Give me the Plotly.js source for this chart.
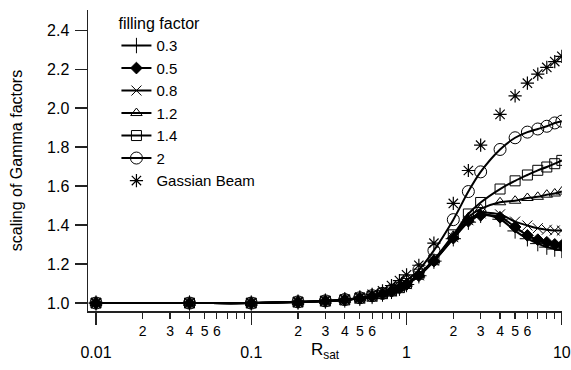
<!DOCTYPE html>
<html>
<head>
<meta charset="utf-8">
<script src="https://cdn.plot.ly/plotly-3.0.1.min.js"></script>
<style>
  html, body { margin: 0; padding: 0; background: #fff; }
  #chart { width: 571px; height: 370px; }
</style>
</head>
<body>
<div id="chart"></div>
<script>
// ---- data ----
const rsat = [0.01, 0.04, 0.1, 0.2, 0.3, 0.4, 0.5, 0.6, 0.7, 0.8, 0.9, 1.0,
              1.2, 1.5, 2, 2.5, 3, 4, 5, 6, 7, 8, 9, 10];

const ff03 = [1.0, 1.0, 1.0, 1.005, 1.01, 1.016, 1.024, 1.034, 1.046, 1.06, 1.076, 1.095,
              1.14, 1.215, 1.33, 1.415, 1.45, 1.43, 1.37, 1.33, 1.305, 1.287, 1.277, 1.27];
const ff05 = [1.0, 1.0, 1.0, 1.005, 1.01, 1.016, 1.024, 1.034, 1.046, 1.06, 1.076, 1.095,
              1.14, 1.215, 1.333, 1.42, 1.45, 1.44, 1.39, 1.347, 1.325, 1.312, 1.301, 1.296];
const ff08 = [1.0, 1.0, 1.0, 1.005, 1.01, 1.016, 1.024, 1.034, 1.046, 1.06, 1.077, 1.097,
              1.142, 1.218, 1.338, 1.425, 1.46, 1.455, 1.418, 1.398, 1.384, 1.376, 1.372, 1.372];
const ff12 = [1.0, 1.0, 1.0, 1.005, 1.01, 1.016, 1.024, 1.035, 1.047, 1.061, 1.078, 1.099,
              1.145, 1.22, 1.345, 1.44, 1.483, 1.517, 1.525, 1.539, 1.545, 1.556, 1.562, 1.572];
const ff14 = [1.0, 1.0, 1.0, 1.005, 1.01, 1.016, 1.025, 1.035, 1.048, 1.062, 1.079, 1.1,
              1.148, 1.222, 1.35, 1.457, 1.516, 1.585, 1.627, 1.657, 1.681, 1.698, 1.715, 1.732];
const ff20 = [1.0, 1.0, 1.0, 1.006, 1.011, 1.018, 1.027, 1.038, 1.05, 1.066, 1.088, 1.115,
              1.17, 1.27, 1.428, 1.572, 1.673, 1.788, 1.848, 1.877, 1.893, 1.907, 1.924, 1.933];
const gauss = [1.0, 1.0, 1.0, 1.006, 1.012, 1.02, 1.03, 1.045, 1.062, 1.09, 1.115, 1.145,
               1.194, 1.307, 1.511, 1.68, 1.81, 1.968, 2.063, 2.128, 2.175, 2.209, 2.239, 2.266];

const seriesNames = ["0.3", "0.5", "0.8", "1.2", "1.4", "2", "Gassian Beam"];

const yTickVals = [1.0, 1.2, 1.4, 1.6, 1.8, 2.0, 2.2, 2.4];
const xMajorVals = [0.01, 0.1, 1, 10];
const xMajorText = ["0.01", "0.1", "1", "10"];
const xMinorVals = [0.02, 0.03, 0.04, 0.05, 0.06, 0.07, 0.08, 0.09,
                    0.2, 0.3, 0.4, 0.5, 0.6, 0.7, 0.8, 0.9,
                    2, 3, 4, 5, 6, 7, 8, 9];
const xMinorText = ["2", "3", "4", "5", "6", " ", " ", " ",
                    "2", "3", "4", "5", "6", " ", " ", " ",
                    "2", "3", "4", "5", "6", " ", " ", " "];

// ---- styling ----
const FONT = "Liberation Sans, Arial, Helvetica, sans-serif";
const INK = "#000";

function lineTrace(y, name, symbol, size) {
  return {
    x: rsat, y: y, name: name, type: "scatter", mode: "lines+markers",
    line: { color: INK, width: 2, shape: "spline", smoothing: 1 },
    marker: { symbol: symbol, size: size, color: INK,
              line: { color: INK, width: 1 } }
  };
}

const data = [
  lineTrace(ff03, seriesNames[0], "cross-thin-open", 11),
  lineTrace(ff05, seriesNames[1], "diamond", 9),
  lineTrace(ff08, seriesNames[2], "x-thin-open", 10),
  lineTrace(ff12, seriesNames[3], "triangle-up-open", 10),
  lineTrace(ff14, seriesNames[4], "square-open", 10),
  lineTrace(ff20, seriesNames[5], "circle-open", 12),
  {
    x: rsat, y: gauss, name: seriesNames[6], type: "scatter", mode: "markers",
    xaxis: "x2", yaxis: "y",
    marker: { symbol: "asterisk-open", size: 11, color: INK,
              line: { color: INK, width: 1.2 } }
  }
];

const xRange = [-2.0515, 1.001];

const layout = {
  width: 571, height: 370,
  margin: { l: 88, r: 9, t: 8, b: 59 },
  paper_bgcolor: "#fff", plot_bgcolor: "#fff",
  font: { family: FONT, size: 16, color: INK },
  showlegend: true,
  legend: {
    x: 0.06, y: 1.005, xanchor: "left", yanchor: "top",
    bgcolor: "rgba(0,0,0,0)", borderwidth: 0,
    font: { family: FONT, size: 15, color: INK },
    title: { text: "filling factor", font: { family: FONT, size: 16, color: INK } },
    itemwidth: 30, tracegroupgap: 0, maxheight: 1
  },
  xaxis: {
    type: "log", range: xRange, autorange: false,
    showgrid: false, zeroline: false,
    showline: true, linecolor: "#222", linewidth: 1.5,
    ticks: "outside", ticklen: 12, tickwidth: 1.3, tickcolor: "#222",
    tickmode: "array", tickvals: xMajorVals, ticktext: xMajorText,
    ticklabelstandoff: 14,
    tickfont: { family: FONT, size: 16, color: INK },
    automargin: false, mirror: false
  },
  xaxis2: {
    type: "log", range: xRange, autorange: false,
    overlaying: "x", anchor: "y", side: "bottom",
    showgrid: false, zeroline: false, showline: false,
    ticks: "outside", ticklen: 7, tickwidth: 1.2, tickcolor: "#222",
    tickmode: "array", tickvals: xMinorVals, ticktext: xMinorText,
    tickfont: { family: FONT, size: 14, color: INK },
    title: { text: "R<sub>sat</sub>", font: { family: FONT, size: 17, color: INK }, standoff: 5 },
    automargin: true
  },
  yaxis: {
    range: [0.9592, 2.5035], autorange: false,
    showgrid: false, zeroline: false,
    showline: true, linecolor: "#222", linewidth: 1.5,
    ticks: "outside", ticklen: 12, tickwidth: 1.3, tickcolor: "#222",
    tickmode: "array", tickvals: yTickVals, tickformat: ".1f",
    ticklabelstandoff: 2,
    tickfont: { family: FONT, size: 16, color: INK },
    title: { text: "scaling of Gamma factors", font: { family: FONT, size: 16, color: INK }, standoff: 20 },
    automargin: true
  }
};

Plotly.newPlot("chart", data, layout, { displayModeBar: false, staticPlot: true });
</script>
</body>
</html>
